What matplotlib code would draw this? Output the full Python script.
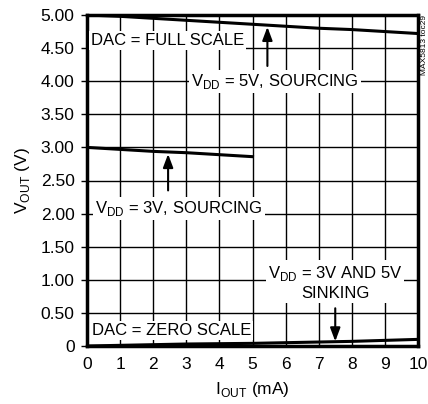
import matplotlib
matplotlib.use("Agg")
import matplotlib.pyplot as plt
from matplotlib import font_manager

fams = set(f.name for f in font_manager.fontManager.ttflist)
FONT = "Liberation Sans Narrow" if "Liberation Sans Narrow" in fams else "Liberation Sans"
plt.rcParams['font.family'] = [FONT, 'DejaVu Sans']
plt.rcParams['mathtext.fontset'] = 'custom'
plt.rcParams['mathtext.rm'] = FONT

# Data
x_5v_src = [0, 1, 2, 3, 4, 5, 6, 7, 8, 9, 10]
y_5v_src = [5.00, 4.98, 4.95, 4.92, 4.89, 4.86, 4.83, 4.80, 4.78, 4.75, 4.72]
x_3v_src = [0, 1, 2, 3, 4, 5]
y_3v_src = [3.00, 2.97, 2.94, 2.92, 2.89, 2.86]
x_sink = [0, 1, 2, 3, 4, 5, 6, 7, 8, 9, 10]
y_sink = [0.00, 0.01, 0.02, 0.03, 0.035, 0.04, 0.05, 0.06, 0.07, 0.085, 0.10]

xticks = list(range(0, 11))
yticks = [0, 0.5, 1.0, 1.5, 2.0, 2.5, 3.0, 3.5, 4.0, 4.5, 5.0]
ytick_labels = ["0", "0.50", "1.00", "1.50", "2.00", "2.50", "3.00", "3.50", "4.00", "4.50", "5.00"]

fig = plt.figure(figsize=(4.28, 4.04), dpi=100)
ax = fig.add_axes([87/428, 1 - 346/404, (418-87)/428, (346-15)/404])

ax.set_xlim(0, 10)
ax.set_ylim(0, 5)
ax.set_xticks(xticks)
ax.set_yticks(yticks)
ax.set_yticklabels(ytick_labels)
ax.grid(True, color='black', linewidth=1.0)
ax.set_axisbelow(True)
for s in ax.spines.values():
    s.set_linewidth(2.5)
ax.tick_params(axis='both', labelsize=12.5, direction='out', length=4, width=1)
ax.tick_params(axis='x', length=0, pad=8)
ax.tick_params(axis='y', pad=5)

lw = 2.2
ax.plot(x_5v_src, y_5v_src, color='black', lw=lw, zorder=5)
ax.plot(x_3v_src, y_3v_src, color='black', lw=lw, zorder=5)
ax.plot(x_sink, y_sink, color='black', lw=lw, zorder=5)

bb = dict(facecolor='white', edgecolor='none', pad=1.5)
fs = 12
ax.text(0.12, 4.62, "DAC = FULL SCALE", fontsize=fs, ha='left', va='center', bbox=bb, zorder=3)
ax.text(3.15, 4.0, r"V$_{\mathrm{DD}}$ = 5V, SOURCING", fontsize=fs, ha='left', va='center', bbox=bb, zorder=3)
ax.text(0.25, 2.07, r"V$_{\mathrm{DD}}$ = 3V, SOURCING", fontsize=fs, ha='left', va='center', bbox=bb, zorder=3)
ax.text(7.5, 0.96, r"V$_{\mathrm{DD}}$ = 3V AND 5V" + "\nSINKING", fontsize=fs, ha='center', va='center',
        bbox=bb, zorder=3, linespacing=1.2)
ax.text(0.15, 0.23, "DAC = ZERO SCALE", fontsize=fs, ha='left', va='center', bbox=bb, zorder=3)

ap = dict(arrowstyle='-|>,head_length=0.8,head_width=0.3', color='black', lw=1.5, shrinkA=0, shrinkB=0)
ax.annotate("", xy=(5.45, 4.82), xytext=(5.45, 4.23), arrowprops=ap, zorder=6)
ax.annotate("", xy=(2.45, 2.9), xytext=(2.45, 2.35), arrowprops=ap, zorder=6)
ax.annotate("", xy=(7.5, 0.07), xytext=(7.5, 0.57), arrowprops=ap, zorder=6)

ax.set_ylabel(r"V$_{\mathrm{OUT}}$ (V)", fontsize=12.5, labelpad=6)
ax.set_xlabel(r"I$_{\mathrm{OUT}}$ (mA)", fontsize=12.5, labelpad=6)

fig.text(424/428, 1 - 15/404, "MAX5813 toc29", rotation=90, fontsize=6, ha='center', va='top')

fig.savefig("out.png", dpi=100)
